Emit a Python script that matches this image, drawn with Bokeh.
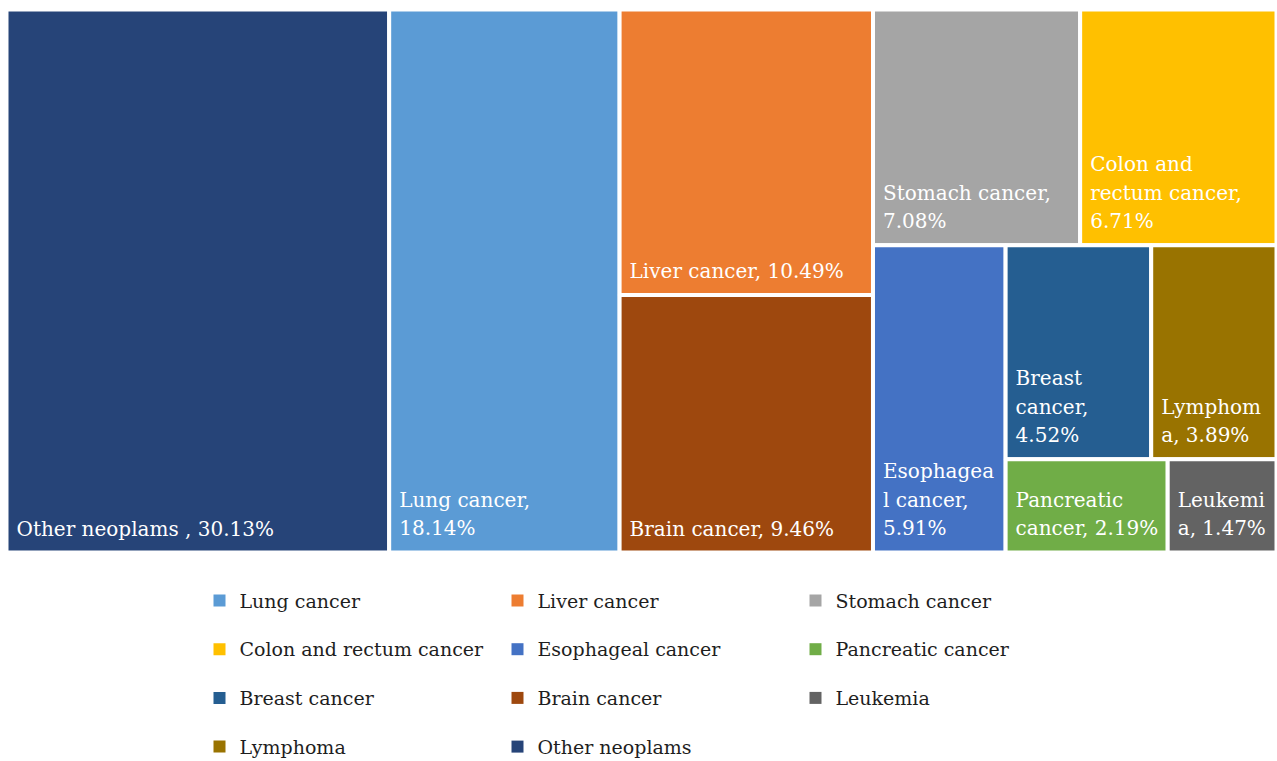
from bokeh.plotting import figure
from bokeh.models import Range1d, ColumnDataSource
from bokeh.core.properties import value
from bokeh.embed import file_html
from bokeh.resources import INLINE

# Share of cancer deaths by site (%)
categories = ["Other neoplams", "Lung cancer", "Liver cancer", "Brain cancer",
              "Stomach cancer", "Colon and rectum cancer", "Esophageal cancer",
              "Breast cancer", "Lymphoma", "Pancreatic cancer", "Leukemia"]
shares = [30.13, 18.14, 10.49, 9.46, 7.08, 6.71, 5.91, 4.52, 3.89, 2.19, 1.47]
colors = ["#264478", "#5B9BD5", "#ED7D31", "#9E480E", "#A5A5A5", "#FFC000",
          "#4472C4", "#255E91", "#997300", "#70AD47", "#636363"]
# tile captions, wrapped the way they appear inside each tile
label_formats = ["Other neoplams , {:.2f}%", "Lung cancer,\n{:.2f}%",
                 "Liver cancer, {:.2f}%", "Brain cancer, {:.2f}%",
                 "Stomach cancer,\n{:.2f}%", "Colon and\nrectum cancer,\n{:.2f}%",
                 "Esophagea\nl cancer,\n{:.2f}%", "Breast\ncancer,\n{:.2f}%",
                 "Lymphom\na, {:.2f}%", "Pancreatic\ncancer, {:.2f}%",
                 "Leukemi\na, {:.2f}%"]
legend_order = ["Lung cancer", "Liver cancer", "Stomach cancer",
                "Colon and rectum cancer", "Esophageal cancer", "Pancreatic cancer",
                "Breast cancer", "Brain cancer", "Leukemia",
                "Lymphoma", "Other neoplams"]

# slice-and-dice nesting: "h" splits along x, "v" splits along y
tree = ("h", [0, 1, ("v", [2, 3]),
              ("v", [("h", [4, 5]),
                     ("h", [6, ("v", [("h", [7, 8]), ("h", [9, 10])])])])])

W, H = 1277, 761
BOX = (6, 9, 1276, 552)   # left, top, right, bottom in canvas units
FONT = value("DejaVu Serif")


def total(node):
    if isinstance(node, int):
        return shares[node]
    return sum(total(k) for k in node[1])


def place(node, x0, y0, x1, y1, out):
    if isinstance(node, int):
        out[node] = (x0, y0, x1, y1)
        return
    direction, kids = node
    t = total(node)
    pos = x0 if direction == "h" else y0
    for k in kids:
        f = total(k) / t
        if direction == "h":
            w = (x1 - x0) * f
            place(k, pos, y0, pos + w, y1, out)
            pos += w
        else:
            h = (y1 - y0) * f
            place(k, x0, pos, x1, pos + h, out)
            pos += h


rects = {}
place(tree, *BOX, rects)
idx = list(range(len(categories)))

tiles = ColumnDataSource(dict(
    left=[rects[i][0] for i in idx], right=[rects[i][2] for i in idx],
    top=[rects[i][1] for i in idx], bottom=[rects[i][3] for i in idx],
    color=colors,
    tx=[rects[i][0] + 10 for i in idx], ty=[rects[i][3] - 12 for i in idx],
    label=[label_formats[i].format(shares[i]) for i in idx],
))

p = figure(width=W, height=H, output_backend="svg", toolbar_location=None,
           x_range=Range1d(0, W), y_range=Range1d(H, 0),
           min_border=0, background_fill_color="white",
           border_fill_color="white")
p.axis.visible = False
p.grid.visible = False
p.outline_line_color = None

p.quad(left="left", right="right", top="top", bottom="bottom", source=tiles,
       fill_color="color", line_color="white", line_width=4)
p.text(x="tx", y="ty", text="label", source=tiles, text_color="white",
       text_font=FONT, text_font_size="20px",
       text_align="left", text_baseline="bottom", text_line_height=1.19)

# legend: three columns, row-major order
col_x = [219, 517, 815]
row_y0, row_dy = 600, 48.7
leg = ColumnDataSource(dict(
    x=[col_x[j % 3] for j in range(len(legend_order))],
    y=[row_y0 + row_dy * (j // 3) for j in range(len(legend_order))],
    color=[colors[categories.index(c)] for c in legend_order],
    name=legend_order,
))
leg.data["tx"] = [x + 20 for x in leg.data["x"]]
p.scatter(x="x", y="y", source=leg, marker="square", size=12,
          fill_color="color", line_color=None)
p.text(x="tx", y="y", text="name", source=leg, text_color="#1e1e1e",
       text_font=FONT, text_font_size="19px",
       text_align="left", text_baseline="middle")

open("out.html", "w").write(file_html(p, INLINE))
